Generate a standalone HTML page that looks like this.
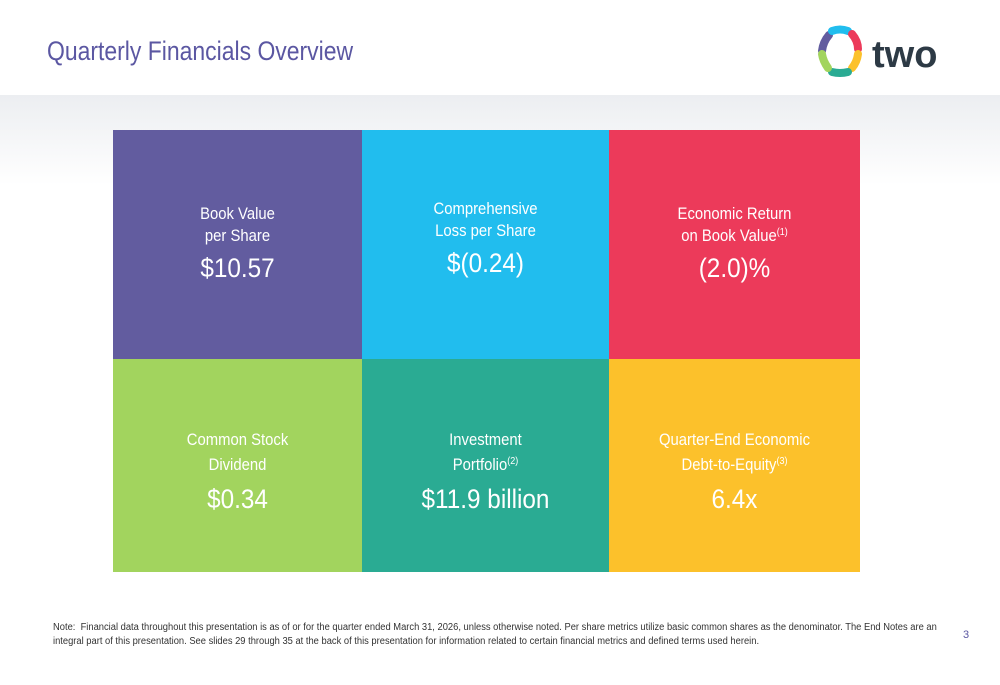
<!DOCTYPE html>
<html><head><meta charset="utf-8"><style>
body{margin:0;width:1000px;height:685px;position:relative;overflow:hidden;background:#fff;font-family:"Liberation Sans Narrow","Liberation Sans",sans-serif;}
.band{position:absolute;left:0;top:95px;width:1000px;height:90px;background:linear-gradient(#eceef1,#fff);}
.title{position:absolute;left:47px;top:36px;font-size:27px;color:#5b57a2;white-space:nowrap;transform:scaleX(.85);transform-origin:left;}
.tile{position:absolute;color:#fff;}
.t{position:absolute;left:0;width:100%;text-align:center;white-space:nowrap;transform:scaleX(.9);}
.l{font-size:16.5px;}
.v{font-size:27px;}
sup{font-size:10px;vertical-align:6px;}
.note{position:absolute;left:53px;font-size:10px;color:#333;white-space:nowrap;transform:scaleX(.936);transform-origin:left;}
</style></head><body>
<div class="band"></div>
<div class="title">Quarterly Financials Overview</div>
<div style="position:absolute;left:815px;top:24px;width:135px;height:56px;">
<svg width="135" height="56" viewBox="0 0 135 56">
<g fill="none" stroke-width="8" stroke-linecap="round">
<path d="M14 11 Q8 18 7 27" stroke="#625c9f"/>
<path d="M17 7 Q25 4 33 7" stroke="#21bdee"/>
<path d="M37 10 Q43 17 43 25" stroke="#ec3a5a"/>
<path d="M43 30 Q42 38 37 44" stroke="#fcc12b"/>
<path d="M33 48 Q25 50 17 48" stroke="#2aab93"/>
<path d="M13 44 Q8 37 7 30" stroke="#a2d45e"/>
</g>
<text x="57" y="43" font-family="Liberation Sans,sans-serif" font-weight="bold" font-size="38" fill="#2d3a45">two</text>
</svg></div>

<div class="tile" style="left:113px;top:130px;width:249px;height:229px;background:#625c9f;">
<div class="t l" style="top:75px">Book Value</div><div class="t l" style="top:97px">per Share</div><div class="t v" style="top:123px">$10.57</div></div>
<div class="tile" style="left:362px;top:130px;width:247px;height:229px;background:#21bdee;">
<div class="t l" style="top:70px">Comprehensive</div><div class="t l" style="top:92px">Loss per Share</div><div class="t v" style="top:118px">$(0.24)</div></div>
<div class="tile" style="left:609px;top:130px;width:251px;height:229px;background:#ec3a5a;">
<div class="t l" style="top:75px">Economic Return</div><div class="t l" style="top:97px">on Book Value<sup>(1)</sup></div><div class="t v" style="top:123px">(2.0)%</div></div>
<div class="tile" style="left:113px;top:359px;width:249px;height:213px;background:#a2d45e;">
<div class="t l" style="top:72px">Common Stock</div><div class="t l" style="top:97px">Dividend</div><div class="t v" style="top:125px">$0.34</div></div>
<div class="tile" style="left:362px;top:359px;width:247px;height:213px;background:#2aab93;">
<div class="t l" style="top:72px">Investment</div><div class="t l" style="top:97px">Portfolio<sup>(2)</sup></div><div class="t v" style="top:125px">$11.9 billion</div></div>
<div class="tile" style="left:609px;top:359px;width:251px;height:213px;background:#fcc12b;">
<div class="t l" style="top:72px">Quarter-End Economic</div><div class="t l" style="top:97px">Debt-to-Equity<sup>(3)</sup></div><div class="t v" style="top:125px">6.4x</div></div>

<div class="note" style="top:622px">Note:&nbsp; Financial data throughout this presentation is as of or for the quarter ended March 31, 2026, unless otherwise noted. Per share metrics utilize basic common shares as the denominator. The End Notes are an</div>
<div class="note" style="top:636px">integral part of this presentation. See slides 29 through 35 at the back of this presentation for information related to certain financial metrics and defined terms used herein.</div>
<div style="position:absolute;left:963px;top:629px;font-size:11px;color:#5b57a2;">3</div>
</body></html>
